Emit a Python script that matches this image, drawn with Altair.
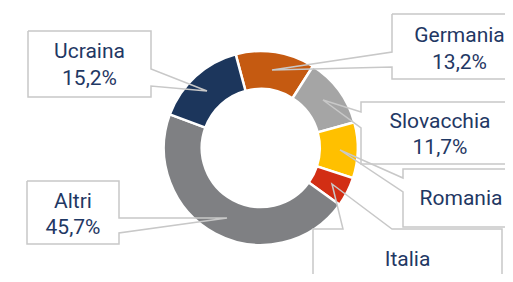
import math
import altair as alt
import pandas as pd

# ---- data ----
countries = ["Germania", "Slovacchia", "Romania", "Italia", "Altri", "Ucraina"]
shares = [13.2, 11.7, 9.3, 4.9, 45.7, 15.2]
slice_colors = ["#C55A11", "#A5A5A5", "#FFC000", "#D22E14", "#7F8083", "#1C365C"]
show_pct = [True, True, False, False, True, True]

# ---- layout (image pixel coordinates) ----
W, H = 497, 266
OX, OY = 8, 8
center = (260.8, 148)
start_deg = -15

# callout outlines: box with pointer to the slice
callouts = {
    "Ucraina": [(28, 31), (151, 31), (151, 69), (207, 91), (151, 86), (151, 97), (28, 97), (28, 31)],
    "Altri": [(27, 181), (119, 181), (119, 218), (227, 218), (119, 233), (119, 244), (27, 244), (27, 181)],
    "Germania": [(392, 14), (512, 14), (512, 79), (392, 79), (392, 67), (272, 70), (392, 52), (392, 14)],
    "Slovacchia": [(540, 102), (361, 102), (361, 112), (323, 100), (361, 128), (361, 164), (540, 164)],
    "Romania": [(540, 169), (403, 169), (403, 178), (340, 150), (403, 192), (403, 227), (540, 227)],
    "Italia": [(313, 300), (313, 229), (343, 229), (332, 184), (392, 229), (502, 229), (502, 300)],
}
# text anchor (center x, first baseline y, line gap)
text_pos = {
    "Ucraina": (89.5, 58, 27),
    "Altri": (73, 208, 26),
    "Germania": (459.5, 42, 26.5),
    "Slovacchia": (440, 128, 25.5),
    "Romania": (461, 205, 26),
    "Italia": (407.5, 266, 26),
}

# ---- tables ----
arc_df = pd.DataFrame({"country": countries, "share": shares, "idx": list(range(len(countries)))})

rows = []
for name, pts in callouts.items():
    for i, (x, y) in enumerate(pts):
        rows.append({"name": name, "i": i, "x": x, "y": y})
line_df = pd.DataFrame(rows)

trows = []
for c, v, sp in zip(countries, shares, show_pct):
    tx, ty, gap = text_pos[c]
    trows.append({"t": c, "x": tx, "y": ty})
    if sp:
        trows.append({"t": f"{v:.1f}".replace(".", ",") + "%", "x": tx, "y": ty + gap})
text_df = pd.DataFrame(trows)

xs = alt.Scale(domain=[OX, OX + W], range=[0, W], nice=False, zero=False)
ys = alt.Scale(domain=[OY, OY + H], range=[0, H], nice=False, zero=False)

start = math.radians(start_deg)
arc = alt.Chart(arc_df).mark_arc(
    innerRadius=59, outerRadius=97, stroke="white", strokeWidth=2.5
).encode(
    theta=alt.Theta("share:Q", stack=True, scale=alt.Scale(range=[start, start + 2 * math.pi])),
    order=alt.Order("idx:Q"),
    color=alt.Color("country:N", scale=alt.Scale(domain=countries, range=slice_colors), legend=None),
    x=alt.value(center[0] - OX),
    y=alt.value(center[1] - OY),
)

lines = alt.Chart(line_df).mark_line(
    clip=True, color="#C8C8C8", strokeWidth=1.5
).encode(
    x=alt.X("x:Q", scale=xs, axis=None),
    y=alt.Y("y:Q", scale=ys, axis=None),
    detail="name:N",
    order="i:Q",
)

texts = alt.Chart(text_df).mark_text(
    font="Roboto", fontSize=21, color="#1F3864", align="center", baseline="alphabetic"
).encode(
    x=alt.X("x:Q", scale=xs, axis=None),
    y=alt.Y("y:Q", scale=ys, axis=None),
    text="t:N",
)

chart = alt.layer(arc, lines, texts).properties(
    width=W, height=H, autosize="none", padding=0, background="white"
).configure_view(stroke=None)

chart.save("out.html", embed_options={"renderer": "svg", "actions": False})
